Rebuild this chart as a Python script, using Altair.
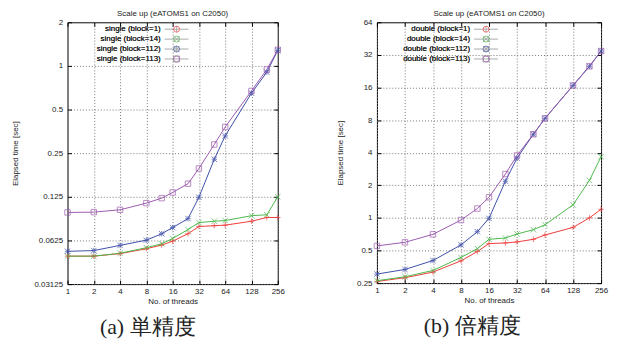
import altair as alt
import pandas as pd

threads = [1, 2, 4, 8, 12, 16, 24, 32, 48, 64, 128, 192, 256]

single_labels = ["single (block=1)", "single (block=14)", "single (block=112)", "single (block=113)"]
double_labels = ["double (block=1)", "double (block=14)", "double (block=112)", "double (block=113)"]

single_b1 = [0.0487, 0.0487, 0.0507, 0.0548, 0.0581, 0.0618, 0.0695, 0.078, 0.079, 0.0797, 0.0848, 0.090, 0.090]
single_b14 = [0.0487, 0.0487, 0.051, 0.0557, 0.0593, 0.0645, 0.0743, 0.083, 0.0848, 0.0857, 0.0926, 0.094, 0.125]
single_b112 = [0.0526, 0.0532, 0.0578, 0.0628, 0.0695, 0.0767, 0.0884, 0.124, 0.227, 0.329, 0.648, 0.906, 1.28]
single_b113 = [0.0975, 0.098, 0.1017, 0.113, 0.1224, 0.134, 0.154, 0.196, 0.287, 0.379, 0.672, 0.945, 1.29]

double_b1 = [0.259, 0.28, 0.316, 0.401, 0.489, 0.579, 0.587, 0.6, 0.634, 0.695, 0.817, 1.0, 1.2]
double_b14 = [0.263, 0.286, 0.327, 0.431, 0.52, 0.634, 0.652, 0.71, 0.778, 0.865, 1.32, 2.22, 3.67]
double_b112 = [0.303, 0.334, 0.404, 0.563, 0.746, 0.989, 2.18, 3.56, 5.92, 8.3, 16.7, 25.1, 34.7]
double_b113 = [0.551, 0.595, 0.705, 0.955, 1.22, 1.55, 2.54, 3.77, 5.92, 8.3, 16.7, 25.1, 34.7]

x_ticks = [1, 2, 4, 8, 16, 32, 64, 128, 256]
y_ticks_single = [0.03125, 0.0625, 0.125, 0.25, 0.5, 1, 2]
y_ticks_double = [0.25, 0.5, 1, 2, 4, 8, 16, 32, 64]

title_text = "Scale up (eATOMS1 on C2050)"
x_title = "No. of threads"
y_title = "Elapsed time [sec]"
caption_single = "(a) 単精度"
caption_double = "(b) 倍精度"

colors = ["#f03c3c", "#4cb84c", "#3e4fa8", "#9c5aae"]
# point markers: plus, cross, star, open square
shape_paths = [
    "M-1,0L1,0M0,-1L0,1",
    "M-1,-1L1,1M-1,1L1,-1",
    "M-1,0L1,0M0,-1L0,1M-1,-1L1,1M-1,1L1,-1",
    "M-1,-1L1,-1L1,1L-1,1Z",
]
# legend samples: line segment with the marker on it (gnuplot key style)
legend_paths = [
    "M-4,0L4,0M0,-1L0,1",
    "M-4,0L4,0M-1,-1L1,1M-1,1L1,-1",
    "M-4,0L4,0M0,-1L0,1M-1,-1L1,1M-1,1L1,-1",
    "M-4,0L4,0M-1,-1L1,-1L1,1L-1,1Z",
]

FONT = "Liberation Sans"


def make_frame(labels, series):
    rows = []
    for lab, vals in zip(labels, series):
        for t, v in zip(threads, vals):
            rows.append({"threads": t, "time": v, "series": lab, "sym": lab, "leg": lab})
    return pd.DataFrame(rows)


def panel(df, labels, ydomain, yticks, W, H, ytp):
    xs = alt.Scale(type="log", base=2, domain=[1, 256], nice=False)
    ys = alt.Scale(type="log", base=2, domain=ydomain, nice=False)
    base = alt.Chart(df)
    grid_kw = dict(gridDash=[1, 2], gridColor="#777", gridWidth=1, gridOpacity=1)
    tick_kw = dict(labels=False, grid=False, domain=False, ticks=True, tickSize=4,
                   tickColor="black", title=None)
    line = base.mark_line(strokeWidth=1).encode(
        x=alt.X("threads:Q", scale=xs,
                axis=alt.Axis(values=x_ticks, format="~g", title=x_title, ticks=False,
                              domain=False, grid=True, labelPadding=3, titlePadding=3,
                              labelFlush=False, **grid_kw)),
        y=alt.Y("time:Q", scale=ys,
                axis=alt.Axis(values=yticks, format="~g", title=y_title, ticks=False,
                              domain=False, grid=True, labelPadding=5, titlePadding=ytp,
                              labelFlush=False, **grid_kw)),
        color=alt.Color("series:N", sort=labels, scale=alt.Scale(range=colors), legend=None),
    )
    pts = base.mark_point(filled=False, size=30, strokeWidth=1).encode(
        x=alt.X("threads:Q", scale=xs,
                axis=alt.Axis(orient="top", offset=-H, values=x_ticks, **tick_kw)),
        y=alt.Y("time:Q", scale=ys,
                axis=alt.Axis(orient="right", offset=-W, values=yticks, **tick_kw)),
        stroke=alt.Stroke("sym:N", sort=labels, scale=alt.Scale(range=colors), legend=None),
        shape=alt.Shape("sym:N", sort=labels, scale=alt.Scale(range=shape_paths), legend=None),
    )
    key = alt.Legend(orient="none", legendX=106, legendY=3, title=None,
                     symbolSize=36, symbolStrokeWidth=1,
                     labelAlign="right", labelOffset={"expr": "-20"},
                     padding=0, rowPadding=0, labelFontSize=8, labelLimit=300)
    ghost = base.mark_point(filled=False, size=0).encode(
        x=alt.X("threads:Q", scale=xs,
                axis=alt.Axis(orient="bottom", offset=-H, values=x_ticks, **tick_kw)),
        y=alt.Y("time:Q", scale=ys,
                axis=alt.Axis(orient="left", offset=-W, values=yticks, **tick_kw)),
        stroke=alt.Stroke("leg:N", sort=labels, scale=alt.Scale(range=colors), legend=key),
        shape=alt.Shape("leg:N", sort=labels, scale=alt.Scale(range=legend_paths), legend=key),
    )
    return (
        alt.layer(line, pts, ghost)
        .resolve_axis(x="independent", y="independent")
        .resolve_scale(stroke="independent", shape="independent")
        .resolve_legend(stroke="independent", shape="independent")
        .properties(width=W, height=H,
                    title=alt.Title(title_text, fontSize=8, fontWeight="normal", font=FONT,
                                    offset=0, anchor="middle", frame="group", color="#222"))
    )


df_single = make_frame(single_labels, [single_b1, single_b14, single_b112, single_b113])
df_double = make_frame(double_labels, [double_b1, double_b14, double_b112, double_b113])

left = panel(df_single, single_labels, [0.03125, 2], y_ticks_single, 212, 264, 15)
right = panel(df_double, double_labels, [0.25, 64], y_ticks_double, 226, 263, 12)

cap_kw = dict(orient="bottom", fontSize=22, fontWeight="normal",
              font="Liberation Serif", anchor="middle", offset=11, color="#222")

left_c = alt.vconcat(left, title=alt.Title(caption_single, **cap_kw))
right_c = alt.vconcat(right, title=alt.Title(caption_double, **cap_kw))

chart = (
    alt.hconcat(left_c, right_c, spacing=50)
    .resolve_scale(color="independent", stroke="independent", shape="independent")
    .resolve_legend(color="independent", stroke="independent", shape="independent")
    .properties(padding={"left": 2, "top": 0, "right": 0, "bottom": 0})
    .configure_view(stroke="black", strokeWidth=1)
    .configure_axis(labelFont=FONT, titleFont=FONT, labelFontSize=8, titleFontSize=8,
                    titleFontWeight="normal", labelColor="#222", titleColor="#222")
    .configure_legend(labelFont=FONT, labelColor="#222")
)

chart.save("out.html", embed_options={"renderer": "svg", "actions": False})
